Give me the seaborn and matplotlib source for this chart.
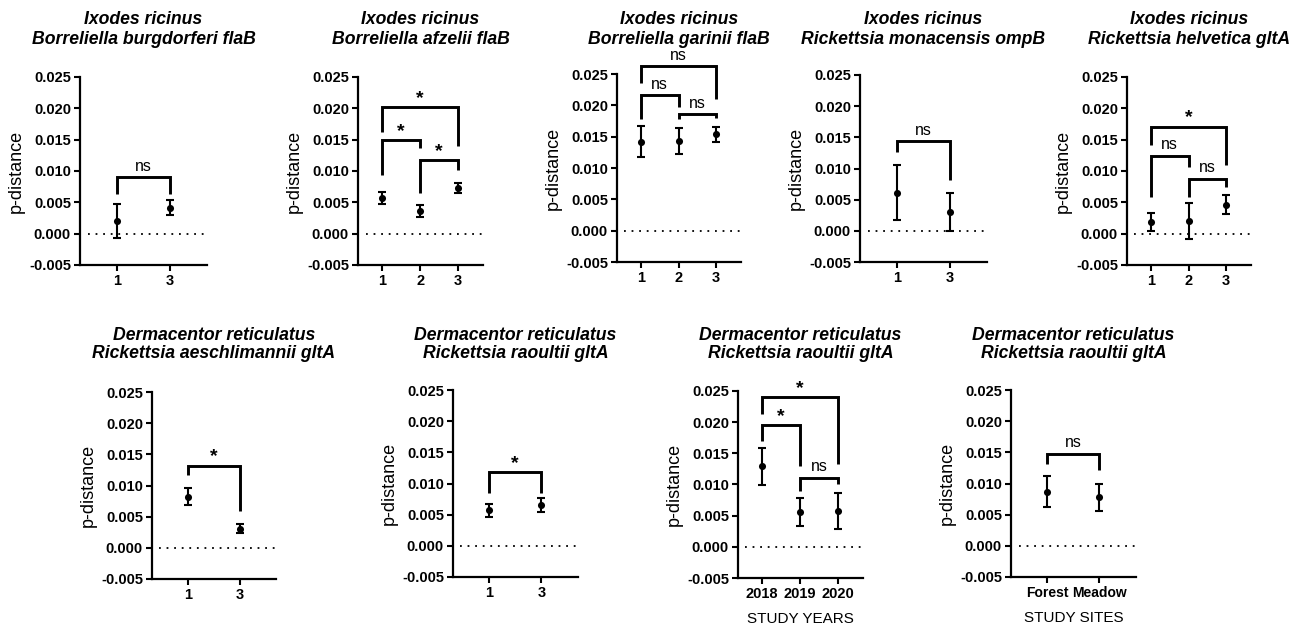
import numpy as np
import matplotlib
matplotlib.use("Agg")
import matplotlib.pyplot as plt
import seaborn as sns

# ---------------- data ----------------
TITLE_TICK = ["Ixodes ricinus"] * 5 + ["Dermacentor reticulatus"] * 4
TITLE_AGENT = [
    "Borreliella burgdorferi flaB",
    "Borreliella afzelii flaB",
    "Borreliella garinii flaB",
    "Rickettsia monacensis ompB",
    "Rickettsia helvetica gltA",
    "Rickettsia aeschlimannii gltA",
    "Rickettsia raoultii gltA",
    "Rickettsia raoultii gltA",
    "Rickettsia raoultii gltA",
]
GROUPS = [
    ["1", "3"],
    ["1", "2", "3"],
    ["1", "2", "3"],
    ["1", "3"],
    ["1", "2", "3"],
    ["1", "3"],
    ["1", "3"],
    ["2018", "2019", "2020"],
    ["Forest", "Meadow"],
]
MEANS = [
    [0.0020, 0.0041],
    [0.0057, 0.0036, 0.0073],
    [0.0142, 0.0143, 0.0154],
    [0.0061, 0.0030],
    [0.0019, 0.0020, 0.0046],
    [0.0082, 0.0031],
    [0.0057, 0.0066],
    [0.0129, 0.0056, 0.0058],
    [0.0087, 0.0078],
]
ERRS = [
    [0.0027, 0.0012],
    [0.0009, 0.0009, 0.0008],
    [0.0025, 0.0021, 0.0012],
    [0.0044, 0.0030],
    [0.0014, 0.0029, 0.0015],
    [0.0014, 0.0007],
    [0.0010, 0.0011],
    [0.0030, 0.0022, 0.0029],
    [0.0025, 0.0022],
]
XLABELS = ["", "", "", "", "", "", "", "STUDY YEARS", "STUDY SITES"]
YTICKS = [-0.005, 0.000, 0.005, 0.010, 0.015, 0.020, 0.025]
# significance brackets: (group i, group j, label)
SIG_PAIRS = [
    [(0, 1, "ns")],
    [(0, 2, "*"), (0, 1, "*"), (1, 2, "*")],
    [(0, 2, "ns"), (0, 1, "ns"), (1, 2, "ns")],
    [(0, 1, "ns")],
    [(0, 2, "*"), (0, 1, "ns"), (1, 2, "ns")],
    [(0, 1, "*")],
    [(0, 1, "*")],
    [(0, 2, "*"), (0, 1, "*"), (1, 2, "ns")],
    [(0, 1, "ns")],
]
# bracket heights: (top, left leg end, right leg end)
SIG_LEVELS = [
    [(0.0090, 0.0063, 0.0063)],
    [(0.0202, 0.0163, 0.0140), (0.0149, 0.0093, 0.0137), (0.0117, 0.0065, 0.0101)],
    [(0.0262, 0.0236, 0.0210), (0.0216, 0.0178, 0.0197), (0.0186, 0.0178, 0.0179)],
    [(0.0144, 0.0127, 0.0081)],
    [(0.0171, 0.0141, 0.0110), (0.0124, 0.0059, 0.0106), (0.0088, 0.0059, 0.0074)],
    [(0.0132, 0.0117, 0.0059)],
    [(0.0118, 0.0085, 0.0085)],
    [(0.0240, 0.0213, 0.0133), (0.0196, 0.0170, 0.0130), (0.0111, 0.0090, 0.0101)],
    [(0.0148, 0.0132, 0.0121)],
]

# ---------------- layout (pixels) ----------------
W, H = 1308, 625
# left, right, top(0.025), bottom(-0.005)
BOXES = [
    (80, 207, 77, 265),
    (358, 483, 77, 265),
    (617, 741, 74, 262),
    (860, 987, 75, 262),
    (1127, 1251, 77, 265),
    (152, 276, 392, 579),
    (453, 578, 390, 577),
    (738, 863, 391, 578),
    (1011, 1136, 390, 577),
]
TITLE_Y = [(19, 40)] * 5 + [(335, 354)] * 4

sns.set_theme(style="ticks")
plt.rcParams["font.family"] = ["Liberation Sans", "DejaVu Sans"]
plt.rcParams["text.color"] = "black"
plt.rcParams["axes.labelcolor"] = "black"
plt.rcParams["xtick.color"] = "black"
plt.rcParams["ytick.color"] = "black"

fig = plt.figure(figsize=(W / 100, H / 100), dpi=100)

for k in range(9):
    l, r, t, b = BOXES[k]
    ax = fig.add_axes([l / W, 1 - b / H, (r - l) / W, (b - t) / H])
    n = len(GROUPS[k])
    pos = np.arange(n)
    means = np.array(MEANS[k])
    errs = np.array(ERRS[k])

    # zero reference line
    ax.axhline(0, xmin=0.06, xmax=1.0, color="black", lw=1.3,
               linestyle=(0, (1, 3.2)), zorder=1)

    ax.errorbar(pos, means, yerr=errs, fmt="none", ecolor="black",
                elinewidth=1.5, capsize=2.6, capthick=1.5, zorder=3)
    sns.scatterplot(x=pos, y=means, ax=ax, color="black", s=26,
                    edgecolor="black", linewidth=0, zorder=4, legend=False)

    ax.set_ylim(-0.005, 0.025)
    if n == 2:
        ax.set_xlim(-0.69, 1.70)
    else:
        ax.set_xlim(-0.64, 2.66)
    ax.set_yticks(YTICKS)
    ax.set_yticklabels([f"{v:.3f}" for v in YTICKS], fontsize=10.5,
                       fontweight="bold")
    ax.set_xticks(pos)
    ax.set_xticklabels(GROUPS[k], fontsize=10.5 if k != 8 else 10,
                       fontweight="bold")
    ax.set_ylabel("p-distance", fontsize=13, labelpad=3)
    if XLABELS[k]:
        ax.set_xlabel(XLABELS[k], fontsize=11, labelpad=8)

    for side in ["top", "right"]:
        ax.spines[side].set_visible(False)
    for side in ["left", "bottom"]:
        ax.spines[side].set_linewidth(1.6)
        ax.spines[side].set_color("black")
    ax.tick_params(axis="both", which="major", length=4.5, width=1.5,
                   color="black", labelcolor="black", pad=2)
    ax.set_facecolor("white")

    # significance brackets
    for (i, j, lab), (top, yl, yr) in zip(SIG_PAIRS[k], SIG_LEVELS[k]):
        ax.plot([pos[i], pos[i], pos[j], pos[j]], [yl, top, top, yr],
                color="black", lw=2.1, solid_joinstyle="miter",
                solid_capstyle="butt", clip_on=False, zorder=5)
        xm = (pos[i] + pos[j]) / 2
        if lab == "ns":
            ax.annotate(lab, (xm, top), xytext=(0, 2.5), textcoords="offset points",
                        ha="center", va="bottom", fontsize=11.5,
                        color="black", annotation_clip=False)
        else:
            ax.annotate(lab, (xm, top), xytext=(0, 0), textcoords="offset points",
                        ha="center", va="bottom", fontsize=14,
                        fontweight="bold", color="black", annotation_clip=False)

    # two-line title
    cx = (l + r) / 2 / W
    y1, y2 = TITLE_Y[k]
    fig.text(cx, 1 - y1 / H, TITLE_TICK[k], ha="center", va="center",
             fontsize=12.7, fontweight="bold", style="italic", color="black")
    fig.text(cx, 1 - y2 / H, TITLE_AGENT[k], ha="center", va="center",
             fontsize=12.7, fontweight="bold", style="italic", color="black")

fig.savefig("out.png", dpi=100, facecolor="white")
